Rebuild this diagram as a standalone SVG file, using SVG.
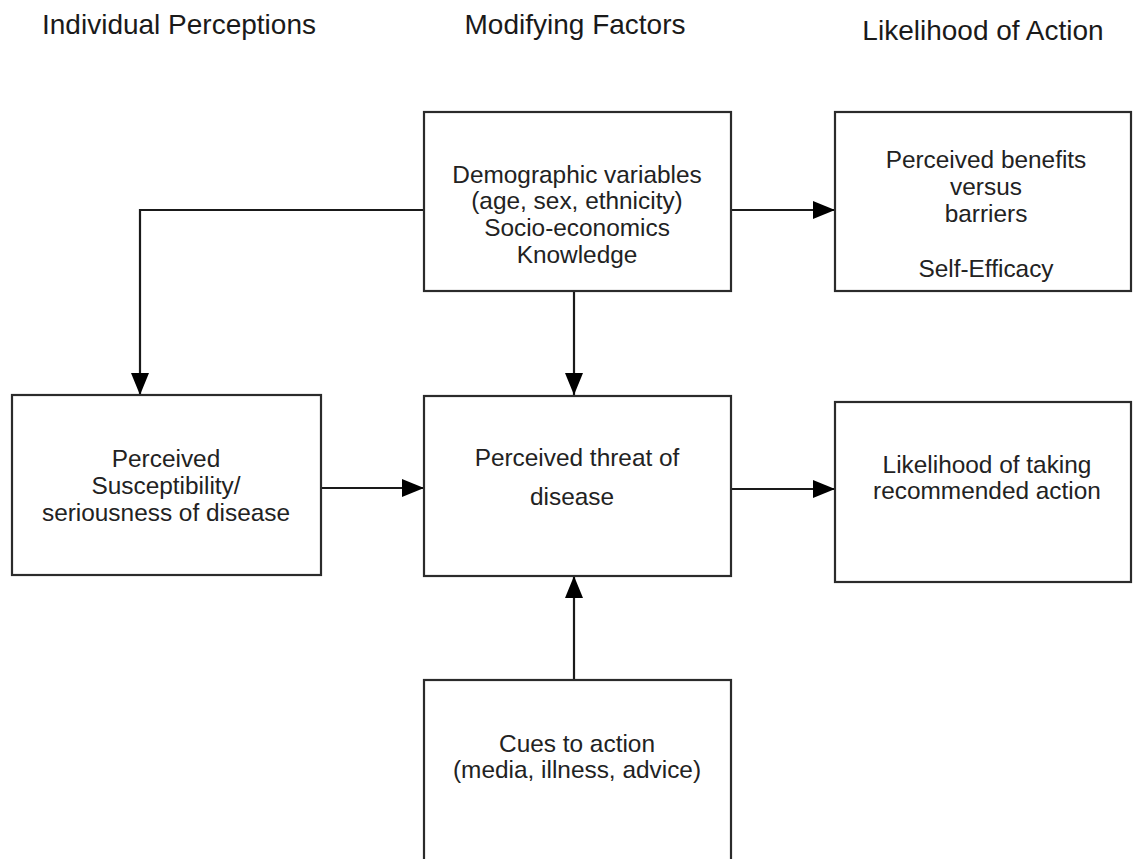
<svg xmlns="http://www.w3.org/2000/svg" width="1133" height="859" viewBox="0 0 1133 859">
<style>
.box{fill:#fff;stroke:#2b2b2b;stroke-width:2.2}
.t{font-family:"Liberation Sans",Arial,sans-serif;font-size:24.4px;fill:#222;text-anchor:middle}
.h{font-family:"Liberation Sans",Arial,sans-serif;font-size:28px;fill:#1a1a1a;text-anchor:middle}
.c{fill:none;stroke:#1a1a1a;stroke-width:2.2}
</style>
<defs>
<marker id="ah" markerUnits="userSpaceOnUse" markerWidth="22" markerHeight="18" refX="22" refY="9" orient="auto">
<path d="M0,0 L22,9 L0,18 z" fill="#000"/>
</marker>
</defs>
<rect width="1133" height="859" fill="#fff"/>
<g id="headers">
<text class="h" x="179" y="34">Individual Perceptions</text>
<text class="h" x="575" y="34">Modifying Factors</text>
<text class="h" x="983" y="40">Likelihood of Action</text>
</g>
<g id="connectors">
<path class="c" d="M424,210 H140 V395" marker-end="url(#ah)"/>
<path class="c" d="M731,210 H835" marker-end="url(#ah)"/>
<path class="c" d="M574,291 V395" marker-end="url(#ah)"/>
<path class="c" d="M321,488 H424" marker-end="url(#ah)"/>
<path class="c" d="M731,489 H835" marker-end="url(#ah)"/>
<path class="c" d="M574,680 V576" marker-end="url(#ah)"/>
</g>
<g id="demographics">
<rect class="box" x="424" y="112" width="307" height="179"/>
<text class="t" x="577" y="183">Demographic variables</text>
<text class="t" x="577" y="209">(age, sex, ethnicity)</text>
<text class="t" x="577" y="236">Socio-economics</text>
<text class="t" x="577" y="263">Knowledge</text>
</g>
<g id="benefits">
<rect class="box" x="835" y="112" width="296" height="179"/>
<text class="t" x="986" y="168">Perceived benefits</text>
<text class="t" x="986" y="195">versus</text>
<text class="t" x="986" y="222">barriers</text>
<text class="t" x="986" y="277">Self-Efficacy</text>
</g>
<g id="susceptibility">
<rect class="box" x="12" y="395" width="309" height="180"/>
<text class="t" x="166" y="467">Perceived</text>
<text class="t" x="166" y="494">Susceptibility/</text>
<text class="t" x="166" y="521">seriousness of disease</text>
</g>
<g id="threat">
<rect class="box" x="424" y="396" width="307" height="180"/>
<text class="t" x="577" y="466">Perceived threat of</text>
<text class="t" x="572" y="505">disease</text>
</g>
<g id="likelihood">
<rect class="box" x="835" y="402" width="296" height="180"/>
<text class="t" x="987" y="473">Likelihood of taking</text>
<text class="t" x="987" y="499">recommended action</text>
</g>
<g id="cues">
<rect class="box" x="424" y="680" width="307" height="190"/>
<text class="t" x="577" y="752">Cues to action</text>
<text class="t" x="577" y="778">(media, illness, advice)</text>
</g>
</svg>
